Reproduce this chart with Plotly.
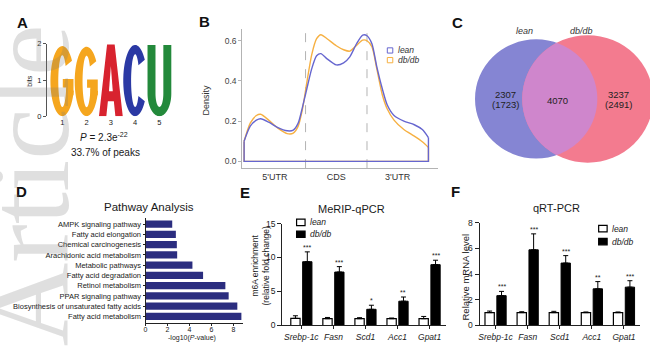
import numpy as np
import plotly.graph_objects as go

W, H = 650, 347
SANS = "Arial, 'Liberation Sans', Helvetica, sans-serif"
INK = "#1a1a1a"

# ---------------- Panel A: m6A motif logo ----------------
motif_letters = ["G", "G", "A", "C", "U"]
motif_pos = [1, 2, 3, 4, 5]
motif_bits = [1.94, 1.92, 1.98, 1.97, 1.97]
nt_colors = {"G": "#f5a61e", "A": "#d8232f", "C": "#2b39a4", "U": "#23893b"}
motif_p = "<i>P</i> = 2.3e<sup>-22</sup>"
motif_frac = "33.7% of peaks"

# ---------------- Panel B: metagene density ----------------
region_names = ["5'UTR", "CDS", "3'UTR"]
region_mids = [0.5, 1.5, 2.5]
region_edges = [1, 2]
meta_x = [0, 0.1, 0.2, 0.27, 0.4, 0.55, 0.7, 0.8, 0.88, 0.95, 1.02, 1.1, 1.18,
          1.25, 1.35, 1.5, 1.62, 1.72, 1.83, 1.93, 2.0, 2.08, 2.16, 2.25, 2.33,
          2.44, 2.6, 2.77, 2.9, 3.0]
density_lean = [0.10, 0.175, 0.205, 0.212, 0.195, 0.168, 0.152, 0.155, 0.19, 0.27,
                0.36, 0.46, 0.525, 0.536, 0.51, 0.48, 0.49, 0.52, 0.585, 0.628,
                0.625, 0.585, 0.47, 0.36, 0.28, 0.228, 0.2, 0.182, 0.158, 0.118]
density_dbdb = [0.10, 0.19, 0.228, 0.234, 0.205, 0.165, 0.138, 0.14, 0.175, 0.26,
                0.39, 0.53, 0.61, 0.63, 0.61, 0.575, 0.555, 0.548, 0.577, 0.603,
                0.60, 0.57, 0.46, 0.33, 0.26, 0.205, 0.158, 0.125, 0.097, 0.069]
PURPLE = "#6666cf"
ORANGE = "#f6b042"

# ---------------- Panel C: peak overlap ----------------
venn_names = ["lean", "db/db"]
venn_only = [2307, 3237]
venn_only_genes = [1723, 2491]
venn_shared = 4070
venn_colors = ["#8585d3", "#f37b8f"]
venn_overlap_color = "#cf86cc"

# ---------------- Panel D: KEGG pathways ----------------
pathways = ["AMPK signaling pathway", "Fatty acid elongation", "Chemical carcinogenesis",
            "Arachidonic acid metabolism", "Metabolic pathways", "Fatty acid degradation",
            "Retinol metabolism", "PPAR signaling pathway",
            "Biosynthesis of unsaturated fatty acids", "Fatty acid metabolism"]
pathway_logp = [2.43, 2.76, 2.85, 2.88, 4.27, 5.24, 7.27, 7.57, 8.36, 8.73]

# ---------------- Panels E/F: gene-level assays ----------------
genes = ["Srebp-1c", "Fasn", "Scd1", "Acc1", "Gpat1"]
merip_lean = [1.05, 1.0, 1.0, 1.0, 1.0]
merip_lean_err = [0.38, 0.18, 0.15, 0.1, 0.33]
merip_dbdb = [9.38, 7.86, 2.38, 3.57, 8.95]
merip_dbdb_err = [1.45, 0.8, 0.6, 0.62, 0.65]
merip_sig = ["***", "***", "*", "**", "***"]
qpcr_lean = [1.0, 1.0, 1.0, 1.0, 1.0]
qpcr_lean_err = [0.12, 0.07, 0.1, 0.05, 0.05]
qpcr_dbdb = [2.32, 5.88, 4.85, 2.85, 2.98]
qpcr_dbdb_err = [0.33, 1.24, 0.58, 0.56, 0.5]
qpcr_sig = ["***", "***", "***", "**", "***"]


def px_x(x):
    return x / W


def px_y(y):
    return 1 - y / H


def xdom(a, b):
    return [a / W, b / W]


def ydom(top, bottom):
    return [1 - bottom / H, 1 - top / H]


annotations = []
shapes = []


def label(x, y, text, size, color=INK, xanchor="center", yanchor="middle", family=SANS, **kw):
    d = dict(x=px_x(x), y=px_y(y), xref="paper", yref="paper", text=text, showarrow=False,
             font=dict(family=family, size=size, color=color), xanchor=xanchor, yanchor=yanchor)
    d.update(kw)
    annotations.append(d)


fig = go.Figure()

# ---- A: letter glyphs drawn as filled outlines in a unit box ----
def arc(cx, cy, rx, ry, t0, t1, n=48):
    t = np.linspace(t0, t1, n)
    return list(zip(cx + rx * np.cos(t), cy + ry * np.sin(t)))


GLYPHS = {
    "C": [("ink", arc(.5, .5, .5, .5, .62, 2 * np.pi - .62) + arc(.5, .5, .17, .37, 2 * np.pi - .62, .62))],
    "G": [("ink", arc(.5, .5, .5, .5, .62, 2 * np.pi - .28) + arc(.5, .5, .17, .37, 2 * np.pi - .28, .62)),
          ("ink", [(.52, .53), (.97, .53), (.97, .30), (.66, .30), (.66, .41), (.52, .41)])],
    "A": [("ink", [(0, 0), (.34, 1), (.66, 1), (1, 0), (.69, 0), (.625, .21), (.375, .21), (.31, 0)]),
          ("hole", [(.42, .35), (.58, .35), (.5, .70)])],
    "U": [("ink", [(0, 1), (0, .32)] + arc(.5, .32, .5, .32, np.pi, 2 * np.pi) + [(1, 1), (.665, 1)]
           + arc(.5, .32, .165, .19, 0, -np.pi) + [(.335, 1)])],
}

for p, letter, bits in zip(motif_pos, motif_letters, motif_bits):
    for kind, poly in GLYPHS[letter]:
        pts = [(p - 0.49 + 0.98 * u, bits * v) for u, v in poly]
        path = "M" + "L".join(f"{x:.4f},{y:.4f}" for x, y in pts) + "Z"
        shapes.append(dict(type="path", xref="x", yref="y", path=path,
                           fillcolor=nt_colors[letter] if kind == "ink" else "white",
                           line=dict(width=0)))

# invisible anchor so the logo axes render
fig.add_trace(go.Scatter(x=motif_pos, y=motif_bits, mode="markers", marker=dict(opacity=0),
                         hoverinfo="skip", xaxis="x", yaxis="y"))
label(28, 78, "bits", 7, textangle=-90)
label(102, 136, motif_p, 10)
label(104, 152, motif_frac, 10)

# ---- B: density curves ----
for name, ys, col in [("db/db", density_dbdb, ORANGE), ("lean", density_lean, PURPLE)]:
    fig.add_trace(go.Scatter(x=meta_x, y=ys, mode="lines", name=name,
                             line=dict(color=col, width=1.4, shape="spline", smoothing=0.7),
                             xaxis="x2", yaxis="y2"))
    fig.add_trace(go.Scatter(x=[meta_x[0], meta_x[0], meta_x[-1], meta_x[-1]],
                             y=[ys[0], 0, 0, ys[-1]], mode="lines",
                             line=dict(color=col, width=1.4), xaxis="x2", yaxis="y2"))
for e in region_edges:
    shapes.append(dict(type="line", xref="x2", yref="y2 domain", x0=e, x1=e, y0=0, y1=1,
                       line=dict(color="#b3b3b3", width=1, dash="dash"), layer="below"))
for i, (name, col) in enumerate([("lean", PURPLE), ("db/db", ORANGE)]):
    yc = 46.8 + i * 10
    shapes.append(dict(type="rect", xref="paper", yref="paper", x0=px_x(386.5), x1=px_x(392),
                       y0=px_y(yc + 2.7), y1=px_y(yc - 2.7), line=dict(color=col, width=1),
                       fillcolor="white"))
    label(395, yc, f"<i>{name}</i>", 8.5, color="#333", xanchor="left")
label(205, 98, "Density", 9, color="#333", textangle=-90)

# ---- C: Venn diagram (axes in pixel units) ----
venn_cy = 96.7
venn_left_cx = 535.8
venn_center_gap = 51.7
venn_scale = 0.768
r1 = venn_scale * np.sqrt(venn_only[0] + venn_shared)
r2 = venn_scale * np.sqrt(venn_only[1] + venn_shared)
c1 = venn_left_cx
c2 = c1 + venn_center_gap
for cx, r, col in [(c1, r1, venn_colors[0]), (c2, r2, venn_colors[1])]:
    shapes.append(dict(type="circle", xref="x3", yref="y3", x0=cx - r, x1=cx + r,
                       y0=venn_cy - r, y1=venn_cy + r, fillcolor=col, line=dict(width=0)))
d = c2 - c1
a = (r1 ** 2 - r2 ** 2 + d ** 2) / (2 * d)
th1 = np.arccos(a / r1)
th2 = np.arccos((d - a) / r2)
lens = [(c1 + r1 * np.cos(t), venn_cy - r1 * np.sin(t)) for t in np.linspace(-th1, th1, 60)]
lens += [(c2 + r2 * np.cos(t), venn_cy - r2 * np.sin(t)) for t in np.linspace(np.pi - th2, np.pi + th2, 60)]
shapes.append(dict(type="path", xref="x3", yref="y3",
                   path="M" + "L".join(f"{x:.3f},{y:.3f}" for x, y in lens) + "Z",
                   fillcolor=venn_overlap_color, line=dict(width=0)))
fig.add_trace(go.Scatter(x=[c1, c2], y=[venn_cy, venn_cy], mode="markers",
                         marker=dict(opacity=0), hoverinfo="skip", xaxis="x3", yaxis="y3"))
label(c1 - 12, 27, f"<i>{venn_names[0]}</i>", 9, color="#333")
label(c2 - 6, 27, f"<i>{venn_names[1]}</i>", 9, color="#333")
label(c1 - r1 * 0.5, 92, f"{venn_only[0]}", 9.5, color="#222")
label(c1 - r1 * 0.5, 102.5, f"({venn_only_genes[0]})", 9.5, color="#222")
label(c2 + r2 * 0.47, 92, f"{venn_only[1]}", 9.5, color="#222")
label(c2 + r2 * 0.47, 102.5, f"({venn_only_genes[1]})", 9.5, color="#222")
label((c2 - r2 + c1 + r1) / 2 - 2, 98, f"{venn_shared}", 9.5, color="#222")

# ---- D: pathway bars ----
fig.add_trace(go.Bar(x=pathway_logp, y=pathways, orientation="h", width=0.72,
                     marker=dict(color="#2b2d7f", line=dict(width=0)), xaxis="x4", yaxis="y4"))
label(147, 208, "Pathway Analysis", 11.5)
label(191, 342.5, "-log10(<i>P</i>-value)", 7)

# ---- E/F: grouped bars with one-sided error bars ----
BAR_W = 0.29
LEAN_OFF = -0.33
DB_OFF = 0.04


def bar_panel(xa, ya, lean, lean_err, db, db_err, sig):
    fig.add_trace(go.Bar(x=genes, y=lean, width=BAR_W, offset=LEAN_OFF, name="lean",
                         marker=dict(color="white", line=dict(color="black", width=1.2)),
                         error_y=dict(type="data", array=lean_err, arrayminus=[0] * len(genes),
                                      symmetric=False, color="black", thickness=1, width=2.5),
                         xaxis=xa, yaxis=ya))
    fig.add_trace(go.Bar(x=genes, y=db, width=BAR_W, offset=DB_OFF, name="db/db",
                         marker=dict(color="black", line=dict(color="black", width=1)),
                         error_y=dict(type="data", array=db_err, arrayminus=[0] * len(genes),
                                      symmetric=False, color="black", thickness=1, width=2.5),
                         xaxis=xa, yaxis=ya))
    for i, (v, e, s) in enumerate(zip(db, db_err, sig)):
        annotations.append(dict(x=i + DB_OFF + BAR_W / 2, y=v + e, xref=xa, yref=ya, text=s,
                                showarrow=False, yanchor="bottom", yshift=-1,
                                font=dict(family=SANS, size=7, color=INK)))


def bar_legend(x_box, y_first, step):
    for i, (name, fill) in enumerate([("lean", "white"), ("db/db", "black")]):
        yc = y_first + i * step
        shapes.append(dict(type="rect", xref="paper", yref="paper", x0=px_x(x_box),
                           x1=px_x(x_box + 8.5), y0=px_y(yc + 3.3), y1=px_y(yc - 3.3),
                           fillcolor=fill, line=dict(color="black", width=1.2)))
        label(x_box + 11, yc, f"<i>{name}</i>", 8.5, xanchor="left")


bar_panel("x5", "y5", merip_lean, merip_lean_err, merip_dbdb, merip_dbdb_err, merip_sig)
bar_panel("x6", "y6", qpcr_lean, qpcr_lean_err, qpcr_dbdb, qpcr_dbdb_err, qpcr_sig)
bar_legend(295.5, 223.8, 12.3)
bar_legend(598.5, 230.3, 13.3)
label(351, 210, "MeRIP-qPCR", 11)
label(556, 209, "qRT-PCR", 11)
label(259, 268, "m6A enrichment<br>(relative fold change)", 8.5, textangle=-90)
label(465, 280, "Relative mRNA level", 9.5, textangle=-90)

# ---- panel letters ----
for t, x, y in [("A", 21, 18), ("B", 203, 17), ("C", 457, 18), ("D", 20, 192),
                ("E", 244, 193), ("F", 455, 192)]:
    label(x, y, f"<b>{t}</b>", 15, color="#111")

# ---- journal watermark ----
label(27, 186, "Article", 116, color="rgba(120,120,120,0.24)",
      family="'Liberation Serif', 'Times New Roman', serif", textangle=-90)

blank = dict(showgrid=False, zeroline=False)
axis_black = dict(showline=True, linecolor="#222", linewidth=1, ticks="outside",
                  tickcolor="#222", tickwidth=1, showgrid=False, zeroline=False)

fig.update_layout(
    width=W, height=H, margin=dict(l=0, r=0, t=0, b=0),
    paper_bgcolor="white", plot_bgcolor="rgba(0,0,0,0)", showlegend=False,
    font=dict(family=SANS, color=INK), barmode="overlay",
    # A
    xaxis=dict(domain=xdom(45, 172), range=[0.3635, 5.579], tickvals=motif_pos, ticks="",
               showline=False, tickfont=dict(size=7.5), anchor="y", **blank),
    yaxis=dict(domain=ydom(40, 114.5), range=[0, 2], tickvals=[0, 1, 2], ticks="outside",
               ticklen=3, showline=True, linecolor="#555", tickcolor="#555",
               tickfont=dict(size=7.5), anchor="x", **blank),
    # B
    xaxis2=dict(domain=xdom(241, 437), range=[-0.03, 3.15], tickvals=region_mids,
                ticktext=region_names, ticks="", showline=True, linecolor="#b3b3b3",
                tickfont=dict(size=9, color="#333"), anchor="y2", **blank),
    yaxis2=dict(domain=ydom(25, 168), range=[-0.034, 0.657], tickvals=[0, 0.2, 0.4, 0.6],
                tickformat=".1f", ticks="outside", ticklen=3, tickcolor="#b3b3b3",
                showline=True, linecolor="#b3b3b3", tickfont=dict(size=8.5, color="#444"),
                anchor="x2", **blank),
    # C
    xaxis3=dict(domain=xdom(455, 650), range=[455, 650], visible=False, anchor="y3"),
    yaxis3=dict(domain=ydom(15, 175), range=[175, 15], visible=False, anchor="x3"),
    # D
    xaxis4=dict(domain=xdom(144, 242), range=[0, 8.9], tickvals=[0, 2, 4, 6, 8], ticklen=2,
                ticklabelstandoff=-2, tickfont=dict(size=7), anchor="y4", **axis_black),
    yaxis4=dict(domain=ydom(219.8, 327), type="category", categoryorder="array",
                categoryarray=pathways, range=[9.6, -0.55], ticklen=2,
                tickfont=dict(size=7.5), anchor="x4", **axis_black),
    # E
    xaxis5=dict(domain=xdom(281, 445), type="category", range=[-0.6, 4.5], ticklen=3,
                tickfont=dict(size=8.5, style="italic"), anchor="y5", **axis_black),
    yaxis5=dict(domain=ydom(225, 330), range=[0, 15], tickvals=[0, 5, 10, 15], ticklen=4,
                tickfont=dict(size=8.5), anchor="x5", **axis_black),
    # F
    xaxis6=dict(domain=xdom(479, 640), type="category", range=[-0.5, 4.5], ticklen=3,
                tickfont=dict(size=8.5, style="italic"), anchor="y6", **axis_black),
    yaxis6=dict(domain=ydom(224, 330), range=[0, 8], tickvals=[0, 2, 4, 6, 8], ticklen=4,
                tickfont=dict(size=8.5), anchor="x6", **axis_black),
    annotations=annotations,
    shapes=shapes,
)

fig.write_html("out.html")
